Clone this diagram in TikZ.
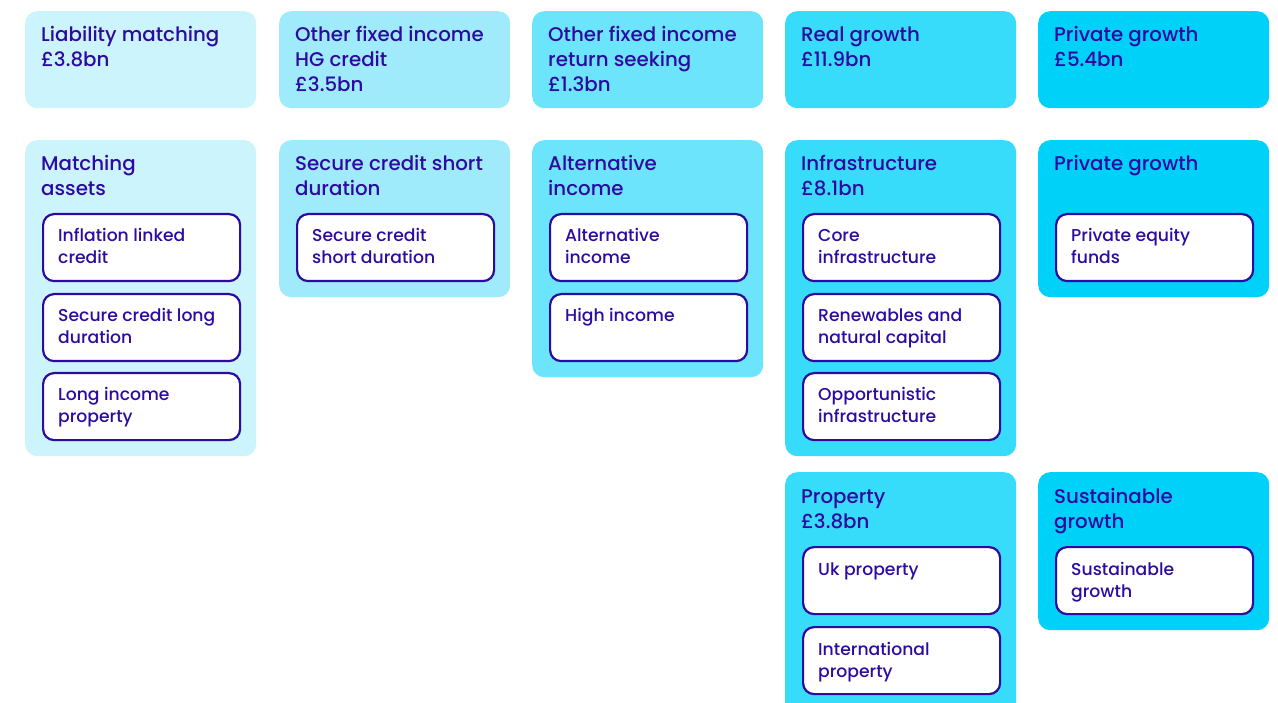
\documentclass[tikz,border=0pt]{standalone}
\usepackage{fontspec}
\setmainfont{Poppins}[BoldFont={Poppins Medium}]
\usetikzlibrary{calc}
\definecolor{ink}{HTML}{2E0BA0}
\definecolor{cA}{HTML}{CCF4FD}
\definecolor{cB}{HTML}{9FEBFC}
\definecolor{cC}{HTML}{6CE4FC}
\definecolor{cD}{HTML}{38DCFB}
\definecolor{cE}{HTML}{00D1F8}
\tikzset{
  panel/.style={rounded corners=12pt, inner sep=0pt, minimum width=231pt, anchor=north west, fill=#1},
  heading/.style={anchor=base west, inner sep=0pt, text=ink, font=\fontsize{19.8}{25}\selectfont\bfseries},
  itembox/.style={draw=ink, line width=2.2pt, fill=white, rounded corners=11pt, inner sep=0pt,
    minimum width=197pt, minimum height=67pt, anchor=north west},
  itemtext/.style={anchor=base west, inner sep=0pt, text=ink, font=\fontsize{17.2}{22}\selectfont\bfseries},
}
% lines stacked downward from the first baseline
\newcommand\lines[1]{\begin{tabular}[t]{@{}l@{}}#1\end{tabular}}
% panel: name, left x, top y, height, colour, heading
\newcommand\panelbox[6]{%
  \node[panel=#5, minimum height=#4pt] (#1) at (#2,#3) {};
  \node[heading] (#1h) at ($(#2,#3)+(16,31)$) {\lines{#6}};
}
% item: name, left x of panel, top y, text
\newcommand\itembox[4]{%
  \node[itembox] (#1) at ($(#2,#3)+(17,1)$) {};
  \node[itemtext] (#1t) at ($(#2,#3)+(33,30)$) {\lines{#4}};
}
\begin{document}
\begin{tikzpicture}[x=1pt,y=-1pt]
\useasboundingbox (0,0) rectangle (1278,703);
\clip (0,0) rectangle (1278,703);
% top row
\panelbox{t1}{25}{11}{97}{cA}{Liability matching\\£3.8bn}
\panelbox{t2}{279}{11}{97}{cB}{Other fixed income\\HG credit\\£3.5bn}
\panelbox{t3}{532}{11}{97}{cC}{Other fixed income\\return seeking\\£1.3bn}
\panelbox{t4}{785}{11}{97}{cD}{Real growth\\£11.9bn}
\panelbox{t5}{1038}{11}{97}{cE}{Private growth\\£5.4bn}
% second row
\panelbox{m1}{25}{140}{316}{cA}{Matching\\assets}
\itembox{m1a}{25}{212}{Inflation linked\\credit}
\itembox{m1b}{25}{292}{Secure credit long\\duration}
\itembox{m1c}{25}{371}{Long income\\property}
\panelbox{m2}{279}{140}{157}{cB}{Secure credit short\\duration}
\itembox{m2a}{279}{212}{Secure credit\\short duration}
\panelbox{m3}{532}{140}{237}{cC}{Alternative\\income}
\itembox{m3a}{532}{212}{Alternative\\income}
\itembox{m3b}{532}{292}{High income}
\panelbox{m4}{785}{140}{316}{cD}{Infrastructure\\£8.1bn}
\itembox{m4a}{785}{212}{Core\\infrastructure}
\itembox{m4b}{785}{292}{Renewables and\\natural capital}
\itembox{m4c}{785}{371}{Opportunistic\\infrastructure}
\panelbox{m5}{1038}{140}{157}{cE}{Private growth}
\itembox{m5a}{1038}{212}{Private equity\\funds}
% third row
\panelbox{b4}{785}{472}{245}{cD}{Property\\£3.8bn}
\itembox{b4a}{785}{545}{Uk property}
\itembox{b4b}{785}{625}{International\\property}
\panelbox{b5}{1038}{472}{158}{cE}{Sustainable\\growth}
\itembox{b5a}{1038}{545}{Sustainable\\growth}
\end{tikzpicture}
\end{document}
